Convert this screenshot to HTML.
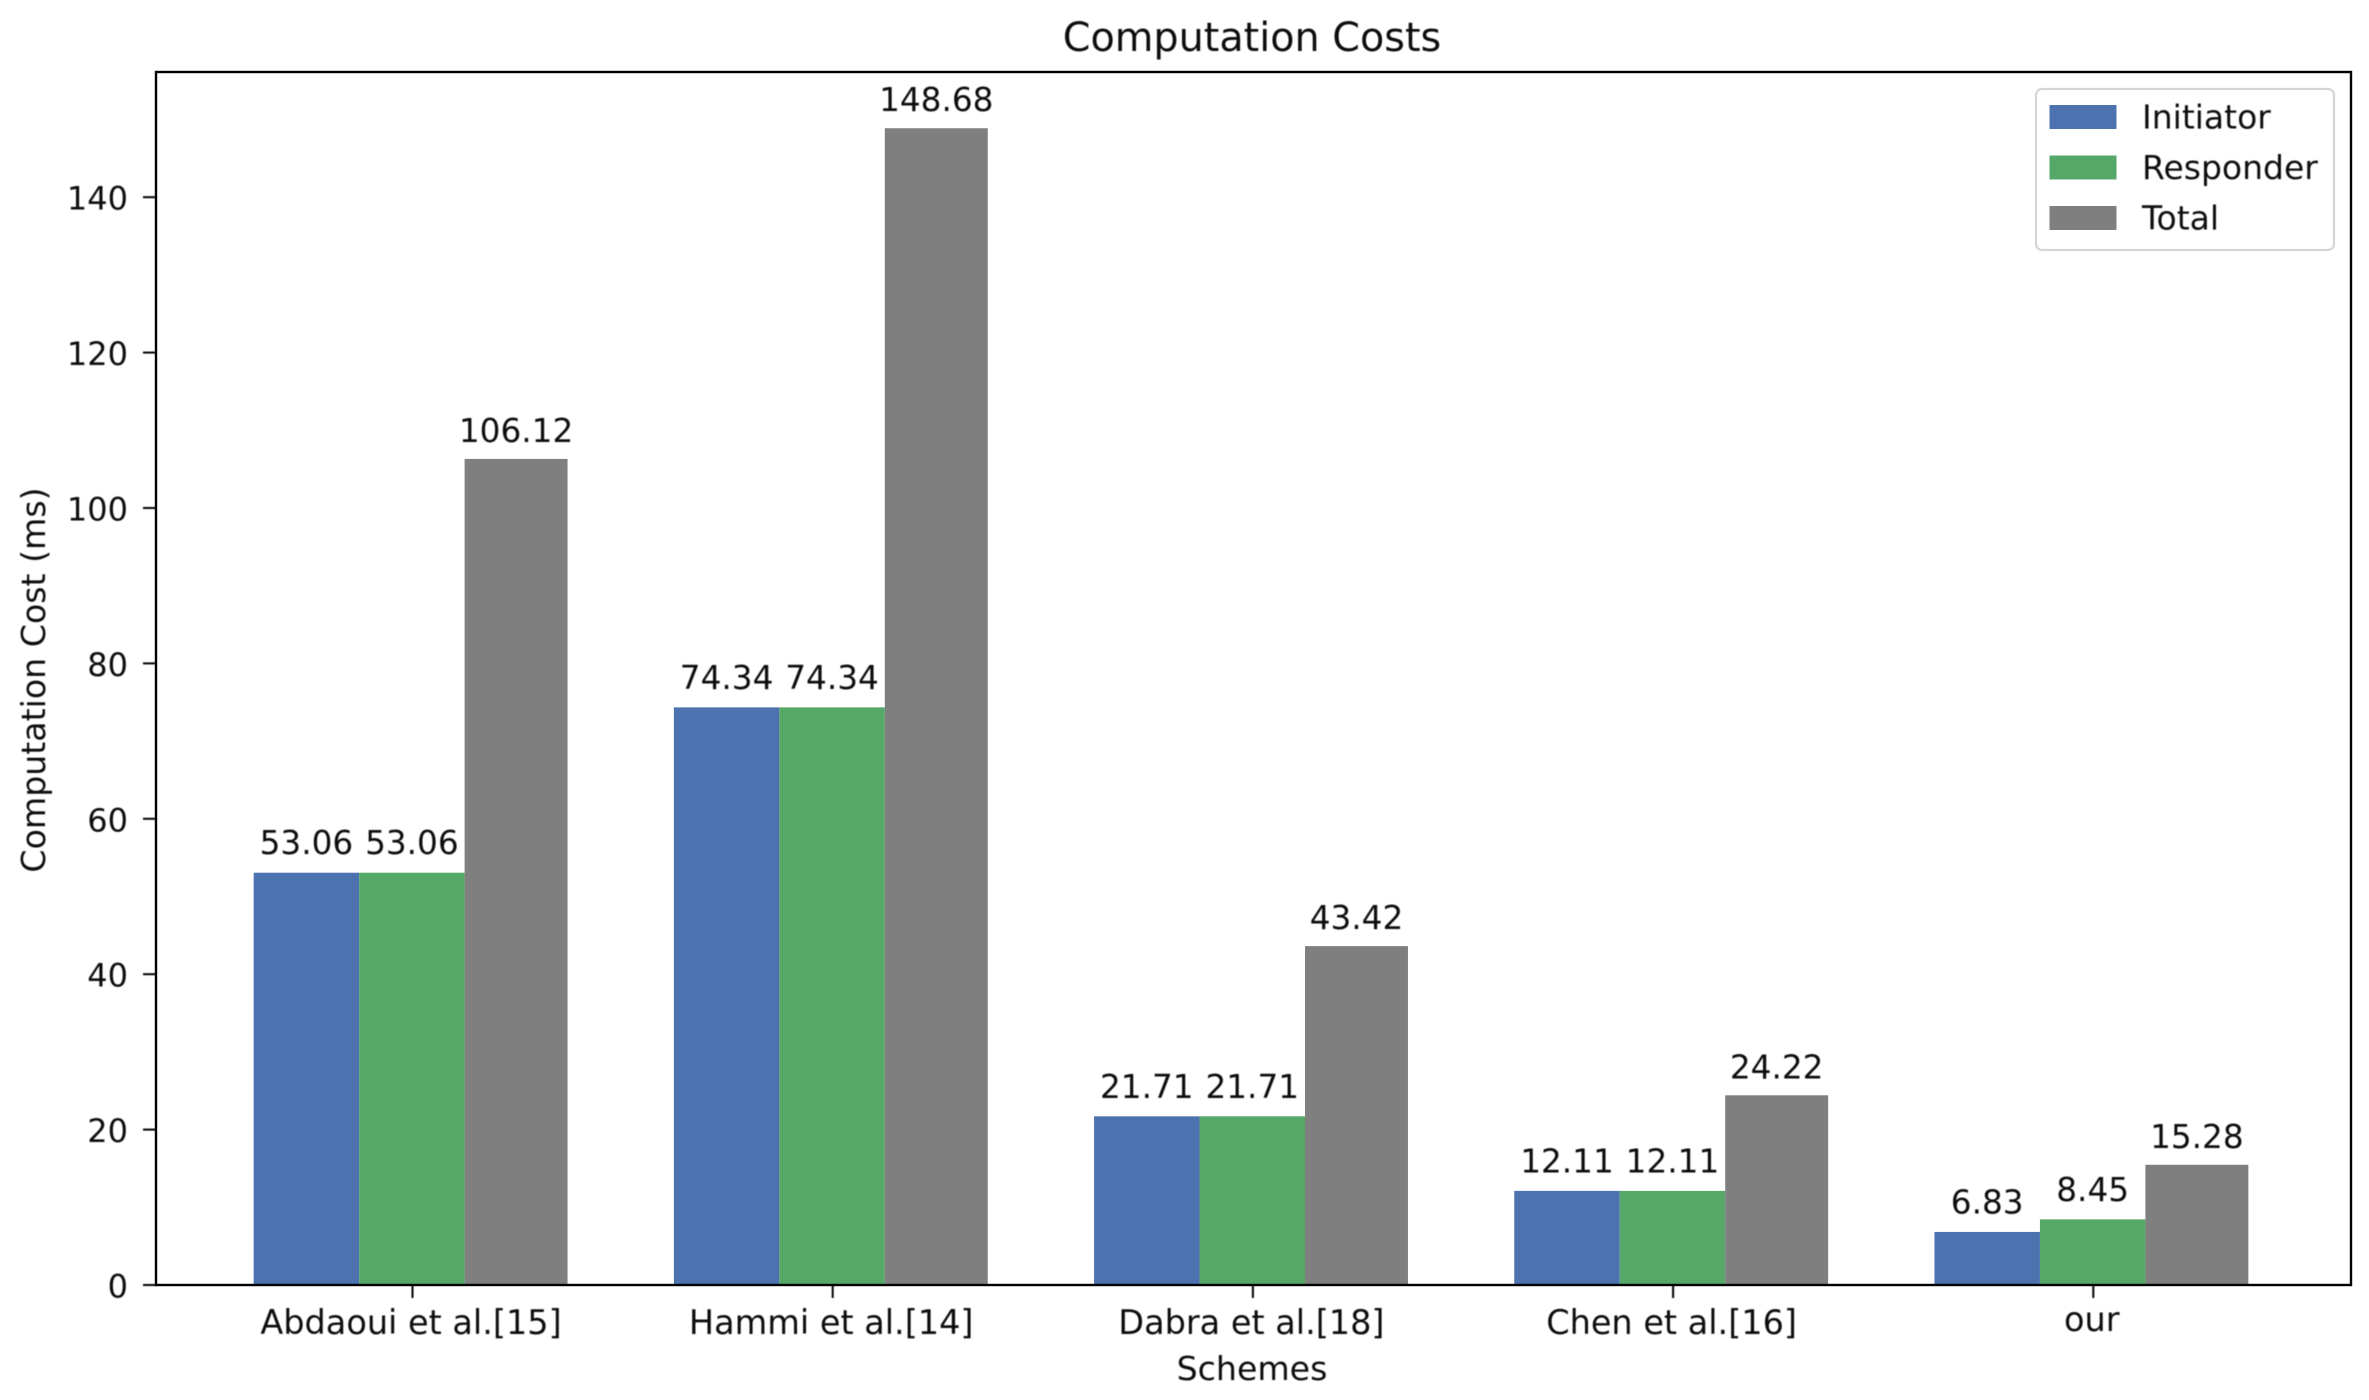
<!DOCTYPE html>
<html lang="en">
<head>
<meta charset="utf-8">
<title>Computation Costs</title>
<style>
html,body{margin:0;padding:0;background:#fff;width:2369px;height:1400px;overflow:hidden}
svg{display:block}
text{font-family:"DejaVu Sans","Liberation Sans",sans-serif;fill:#111}
.tick-text{font-size:33.5px}
.y-tick-text{font-size:32px}
.legend-text{font-size:33px}
.value-text{font-size:32.7px}
.axis-title{font-size:33.2px}
</style>
</head>
<body>
<svg id="chart" xmlns="http://www.w3.org/2000/svg" width="2369" height="1400" viewBox="0 0 2369 1400">
  <defs>
    <filter id="soft" x="-5%" y="-5%" width="110%" height="110%"><feGaussianBlur stdDeviation="0.6"/></filter>
  </defs>
  <rect x="0" y="0" width="2369" height="1400" fill="#fff"/>
  <g id="marks"></g>
  <g id="xticks" filter="url(#soft)"></g>
  <g id="yticks" filter="url(#soft)"></g>
  <g id="values" filter="url(#soft)"></g>
  <rect x="156" y="72" width="2195" height="1213" fill="none" stroke="#000" stroke-width="2.4"/>
  <text x="1252" y="51" text-anchor="middle" style="font-size:39.7px" filter="url(#soft)">Computation Costs</text>
  <text class="axis-title" x="1252" y="1380" text-anchor="middle" filter="url(#soft)">Schemes</text>
  <text class="axis-title" transform="translate(45 680) rotate(-90)" text-anchor="middle" filter="url(#soft)">Computation Cost (ms)</text>
  <g>
    <rect x="2036" y="89" width="298" height="161" rx="6" ry="6" fill="#fff" fill-opacity="0.8" stroke="#d6d6d6" stroke-width="2.2"/>
    <g>
      <rect x="2049.5" y="105" width="67" height="24" fill="#4c72b0"/>
      <text class="legend-text" x="2142" y="128.5" filter="url(#soft)">Initiator</text>
    </g>
    <g>
      <rect x="2049.5" y="155.5" width="67" height="24" fill="#55a868"/>
      <text class="legend-text" x="2142" y="179" filter="url(#soft)">Responder</text>
    </g>
    <g>
      <rect x="2049.5" y="206" width="67" height="24" fill="#7f7f7f"/>
      <text class="legend-text" x="2142" y="229.5" filter="url(#soft)">Total</text>
    </g>
  </g>
</svg>
<script>
const categories = ["Abdaoui et al.[15]", "Hammi et al.[14]", "Dabra et al.[18]", "Chen et al.[16]", "our"];
const initiator = [53.06, 74.34, 21.71, 12.11, 6.83];
const responder = [53.06, 74.34, 21.71, 12.11, 8.45];
const total = [106.12, 148.68, 43.42, 24.22, 15.28];
const yTicks = [0, 20, 40, 60, 80, 100, 120, 140];
const yMax = 156.11;

const NS = "http://www.w3.org/2000/svg";
const plot = { left: 156, right: 2351, top: 72, bottom: 1285 };
const firstCenter = 412.5, catStep = 420.2;

function xScale(c) { return firstCenter + c * catStep; }
function yScale(v) { return plot.bottom - (v / yMax) * (plot.bottom - plot.top); }

const seriesList = [
  { key: "initiator", values: initiator, color: "#4c72b0", from: -0.378, to: -0.127, lift: 0 },
  { key: "responder", values: responder, color: "#55a868", from: -0.127, to: 0.124, lift: 0 },
  { key: "total", values: total, color: "#7f7f7f", from: 0.124, to: 0.369, lift: 1.5 }
];

const marks = document.getElementById("marks");
const valuesLayer = document.getElementById("values");
const xLayer = document.getElementById("xticks");
const yLayer = document.getElementById("yticks");

seriesList.forEach(function (s) {
  s.values.forEach(function (v, i) {
    const x0 = xScale(i + s.from), x1 = xScale(i + s.to);
    const top = yScale(v) - s.lift;
    const bar = document.createElementNS(NS, "rect");
    bar.setAttribute("x", x0);
    bar.setAttribute("y", top);
    bar.setAttribute("width", x1 - x0);
    bar.setAttribute("height", plot.bottom - top);
    bar.setAttribute("fill", s.color);
    
    
    marks.appendChild(bar);

    const label = document.createElementNS(NS, "text");
    label.setAttribute("class", "value-text");
    label.setAttribute("x", (x0 + x1) / 2);
    label.setAttribute("y", yScale(v) - 18.5);
    label.setAttribute("text-anchor", "middle");
    label.textContent = v.toFixed(2);
    
    
    valuesLayer.appendChild(label);
  });
});

categories.forEach(function (name, i) {
  const tick = document.createElementNS(NS, "line");
  tick.setAttribute("x1", xScale(i));
  tick.setAttribute("x2", xScale(i));
  tick.setAttribute("y1", plot.bottom);
  tick.setAttribute("y2", plot.bottom + 13);
  tick.setAttribute("stroke", "#000");
  tick.setAttribute("stroke-width", "2");
  
  
  xLayer.appendChild(tick);

  const label = document.createElementNS(NS, "text");
  label.setAttribute("class", "tick-text");
  label.setAttribute("x", xScale(i) - 1.5);
  label.setAttribute("y", name.indexOf("[") >= 0 ? 1334 : 1331);
  label.setAttribute("text-anchor", "middle");
  label.textContent = name;
  
  
  xLayer.appendChild(label);
});

yTicks.forEach(function (v) {
  const tick = document.createElementNS(NS, "line");
  tick.setAttribute("x1", plot.left - 13);
  tick.setAttribute("x2", plot.left);
  tick.setAttribute("y1", yScale(v));
  tick.setAttribute("y2", yScale(v));
  tick.setAttribute("stroke", "#000");
  tick.setAttribute("stroke-width", "2");
  
  
  yLayer.appendChild(tick);

  const label = document.createElementNS(NS, "text");
  label.setAttribute("class", "y-tick-text");
  label.setAttribute("x", plot.left - 28);
  label.setAttribute("y", yScale(v) + 12.5);
  label.setAttribute("text-anchor", "end");
  label.textContent = String(v);
  
  
  yLayer.appendChild(label);
});
</script>
</body>
</html>
